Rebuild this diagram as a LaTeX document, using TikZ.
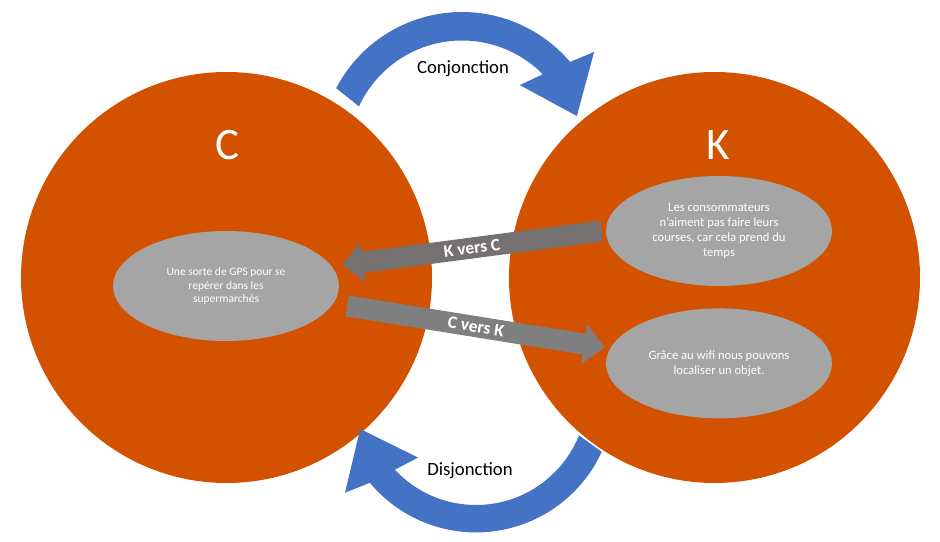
\documentclass[tikz,border=0pt]{standalone}
\usepackage{fontspec}
\setmainfont{Carlito}
\usetikzlibrary{arrows.meta,positioning,calc,shapes.geometric}
\definecolor{rust}{RGB}{211,82,0}
\definecolor{cobalt}{RGB}{68,114,196}
\definecolor{ash}{RGB}{165,165,165}
\definecolor{slate}{RGB}{118,113,113}
\definecolor{steel}{RGB}{127,127,127}
\tikzset{
  world/.style={circle,fill=rust,minimum size=411pt,inner sep=0pt},
  world title/.style={text=white,font=\fontsize{45}{50}\selectfont},
  idea/.style={ellipse,fill=ash,minimum width=226pt,minimum height=110pt,inner sep=0pt,
    text=white,align=center,font=\fontsize{12.6}{15.1}\selectfont},
  pass/.style={draw=#1,line width=21pt,-{Triangle[length=21pt,width=40pt,line width=0pt]}},
  pass label/.style={midway,sloped,text=white,font=\fontsize{17.5}{20}\selectfont\bfseries},
  swoop/.style={fill=cobalt},
  tag/.style={font=\fontsize{18.7}{22}\selectfont},
}

\begin{document}
\begin{tikzpicture}[x=1pt,y=1pt]
  \useasboundingbox (0,0) rectangle (940,541);
  % the two worlds
  \node[world] (C) at (226.5,263.5) {};
  \coordinate (top hub) at (462,387);
  \coordinate (low hub) at (476,147);
  % curved block arrows
  \fill[swoop] ([shift={(top hub)}]152.4:142) arc[start angle=152.4,end angle=40.4,radius=142]
    -- ([shift={(top hub)}]37.7:167) -- ([shift={(top hub)}]18.3:121) -- ([shift={(top hub)}]50:90)
    -- ([shift={(top hub)}]44.6:113.5) arc[start angle=44.6,end angle=155.2,radius=113.5] -- cycle;
  \fill[swoop] ([shift={(low hub)}]-24.7:138.4) arc[start angle=-24.7,end angle=-140.1,radius=138.4]
    -- ([shift={(low hub)}]-143:164) -- ([shift={(low hub)}]-163.2:121) -- ([shift={(low hub)}]-132.3:86)
    -- ([shift={(low hub)}]-137:111) arc[start angle=-137,end angle=-21.9,radius=111] -- cycle;
  \node[world] (K) at (714.5,263.5) {};
  \node[tag] (conj) at (463,472) {Conjonction};
  \node[tag] (disj) at (470,70) {Disjonction};
  \node[world title] (Ct) at (227,396) {C};
  \node[world title] (Kt) at (718,396) {K};
  % ideas
  \node[idea,font=\fontsize{11.5}{13.8}\selectfont] (gps) at (226,255) {Une sorte de GPS pour se\\repérer dans les\\supermarchés};
  \node[idea] (need) at (719,310) {Les consommateurs\\n’aiment pas faire leurs\\courses, car cela prend du\\temps};
  \node[idea,below=22pt of need] (wifi) {Grâce au wifi nous pouvons\\localiser un objet.};
  % passages
  \draw[pass=slate] ([xshift=-4pt]need.west) -- node[pass label]{K vers C} ($(gps.east)+(3,21)$);
  \draw[pass=steel] ($(gps.east)+(8,-20)$) -- node[pass label]{C vers K} ($(wifi.west)+(-1,16)$);
\end{tikzpicture}
\end{document}
